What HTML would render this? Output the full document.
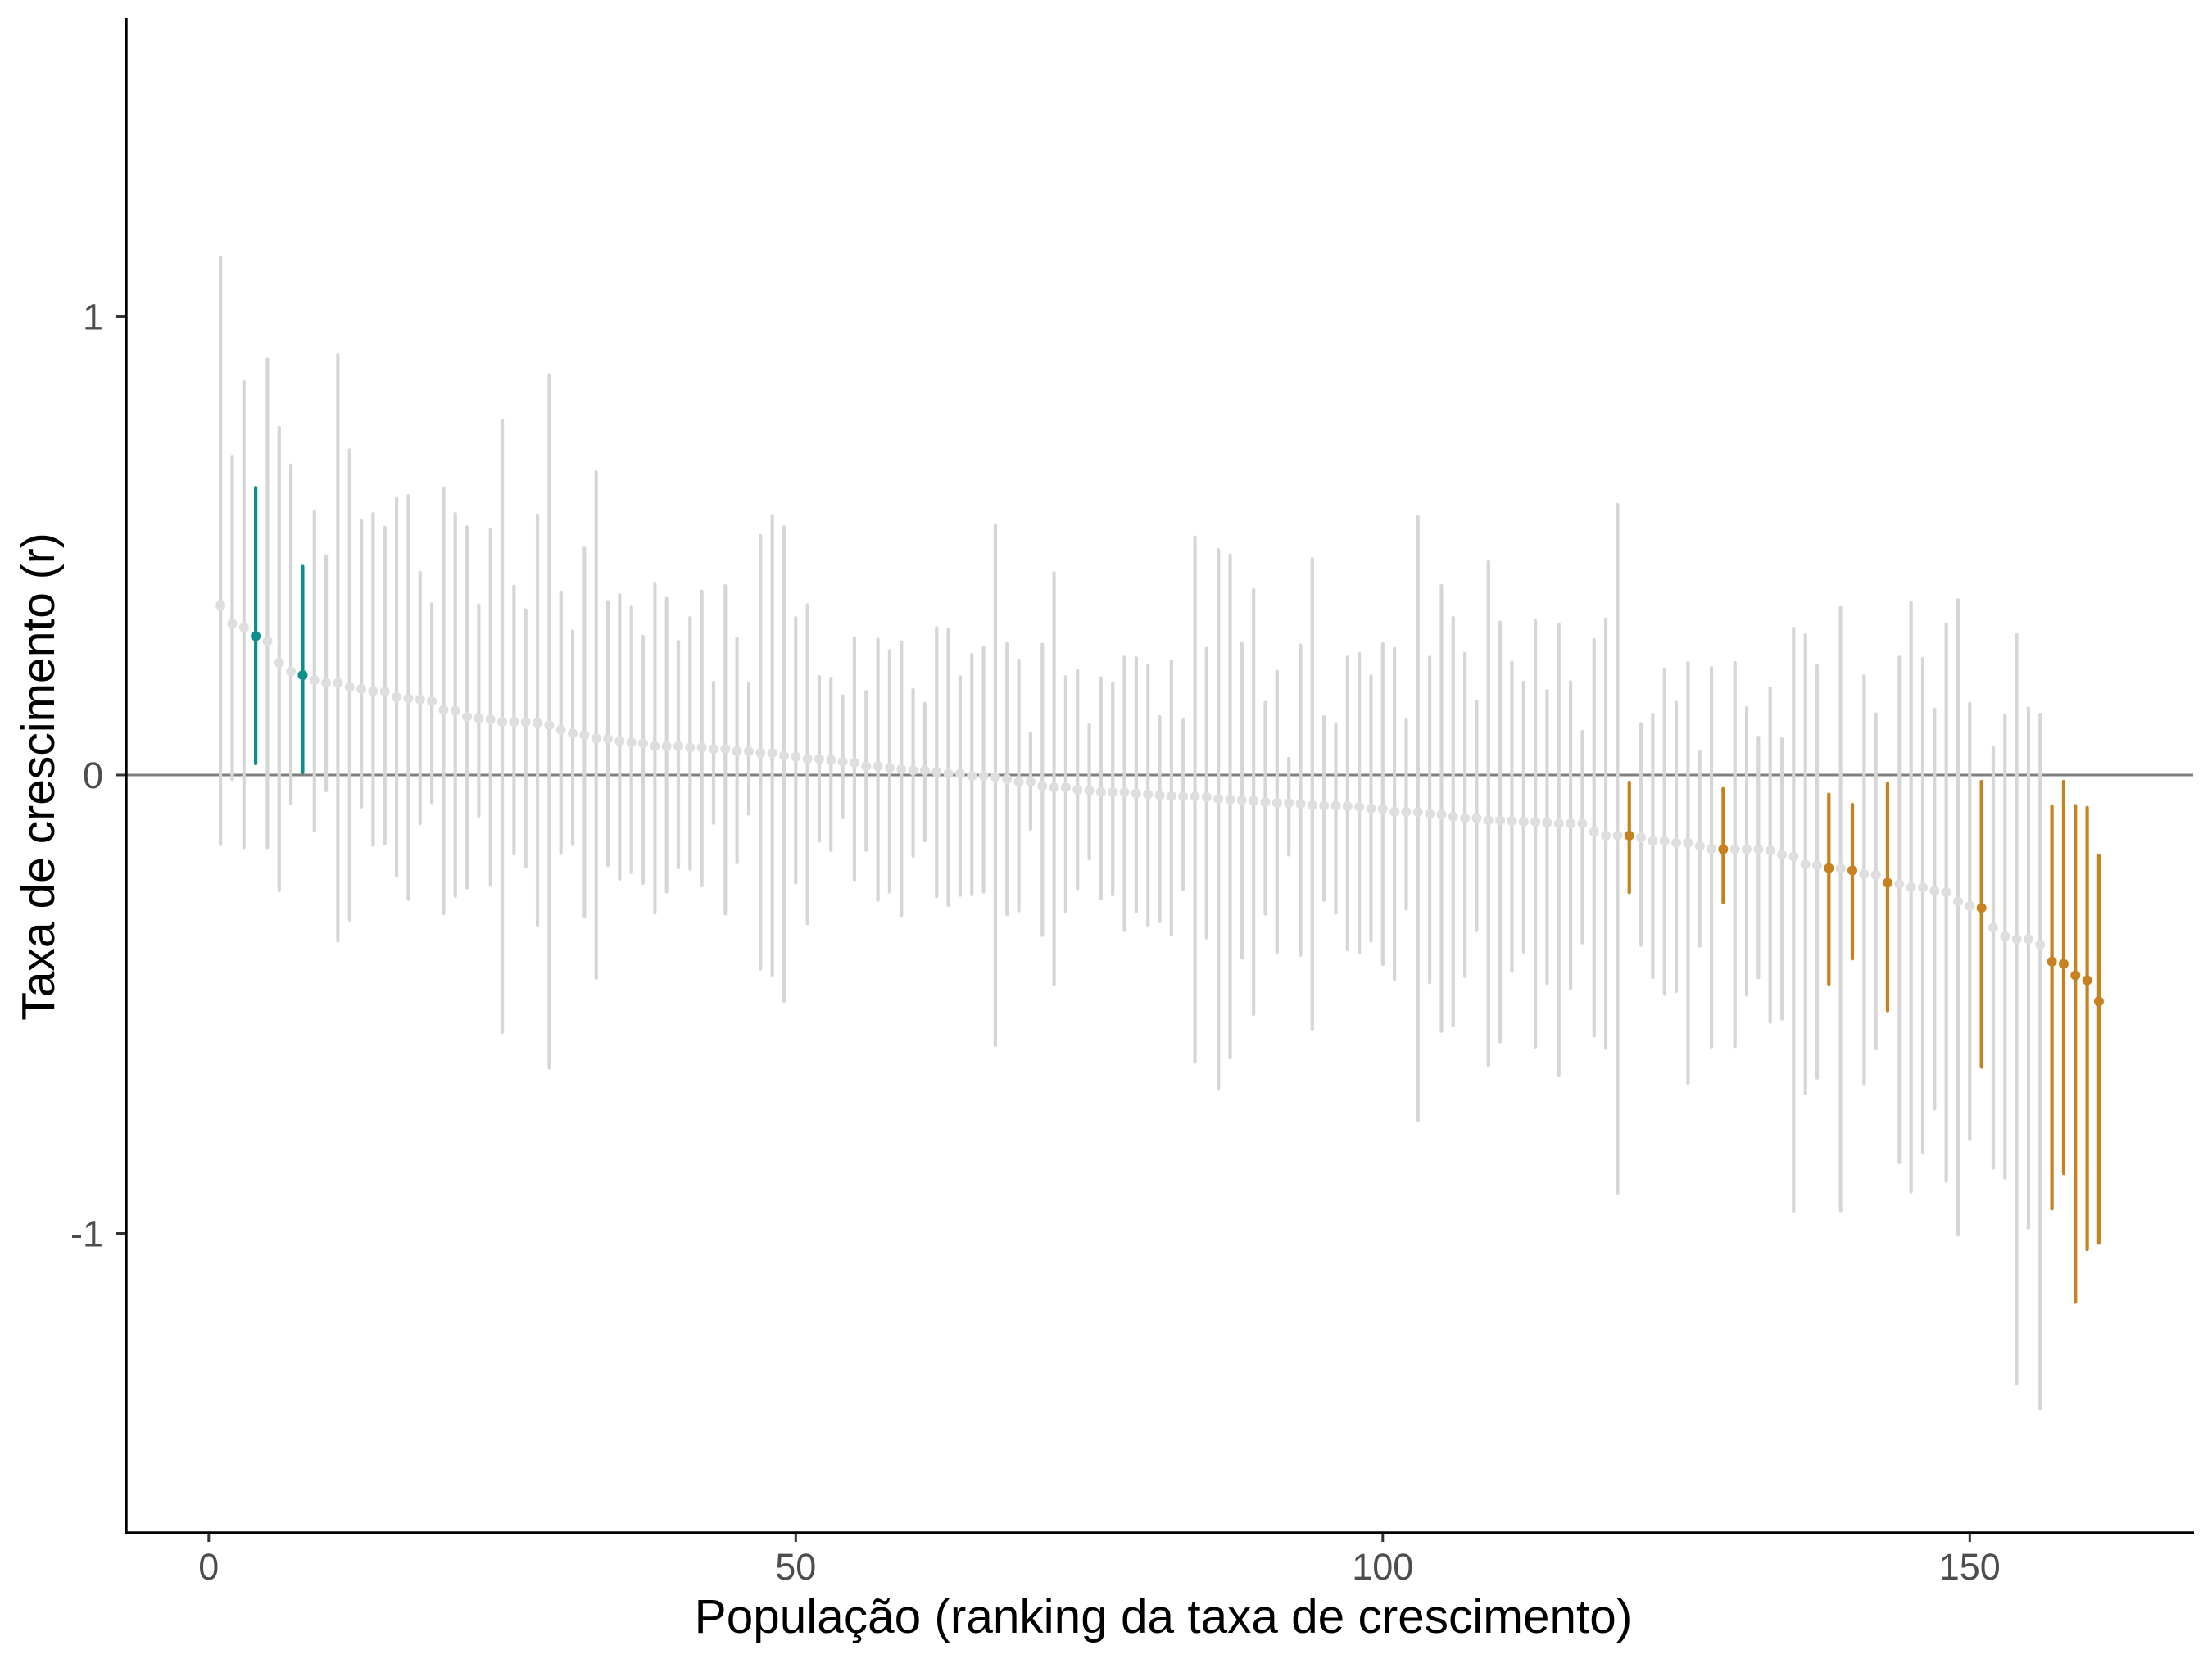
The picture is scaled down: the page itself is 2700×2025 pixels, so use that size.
<!DOCTYPE html>
<html><head><meta charset="utf-8"><style>
html,body{margin:0;padding:0;background:#fff;}
svg{display:block;font-family:"Liberation Sans",Arial,sans-serif;}
</style></head><body>
<svg id="chart" width="2700" height="2025" viewBox="0 0 2700 2025" xmlns="http://www.w3.org/2000/svg">
<rect width="2700" height="2025" fill="#fff"/>
<g id="marks"></g>
<g id="axes"></g>
<text x="1420" y="1993" font-size="58.5" text-anchor="middle" fill="#000">População (ranking da taxa de crescimento)</text>
<text transform="translate(66,948) rotate(-90)" font-size="57" text-anchor="middle" fill="#000">Taxa de crescimento (r)</text>
</svg>
<script>
const estimates = [0.37,0.33,0.322,0.303,0.292,0.245,0.226,0.218,0.207,0.201,0.201,0.192,0.188,0.183,0.182,0.17,0.167,0.165,0.161,0.142,0.14,0.127,0.124,0.121,0.116,0.116,0.115,0.114,0.109,0.099,0.091,0.087,0.08,0.079,0.074,0.071,0.069,0.063,0.063,0.063,0.06,0.06,0.057,0.057,0.052,0.052,0.048,0.048,0.042,0.04,0.035,0.035,0.033,0.029,0.027,0.019,0.019,0.016,0.013,0.01,0.01,0.007,0.003,0.003,-0.002,-0.002,-0.004,-0.009,-0.015,-0.015,-0.024,-0.027,-0.027,-0.032,-0.034,-0.037,-0.037,-0.037,-0.04,-0.042,-0.044,-0.046,-0.047,-0.047,-0.048,-0.052,-0.053,-0.055,-0.056,-0.059,-0.061,-0.061,-0.063,-0.066,-0.067,-0.067,-0.068,-0.069,-0.073,-0.074,-0.08,-0.08,-0.081,-0.085,-0.086,-0.091,-0.094,-0.094,-0.099,-0.099,-0.1,-0.102,-0.102,-0.104,-0.106,-0.106,-0.106,-0.124,-0.132,-0.132,-0.132,-0.136,-0.144,-0.144,-0.148,-0.148,-0.155,-0.161,-0.162,-0.162,-0.162,-0.162,-0.165,-0.174,-0.178,-0.195,-0.197,-0.203,-0.204,-0.208,-0.216,-0.218,-0.235,-0.238,-0.245,-0.245,-0.253,-0.256,-0.276,-0.286,-0.29,-0.333,-0.352,-0.358,-0.358,-0.37,-0.407,-0.412,-0.437,-0.448,-0.494];
const upper = [1.129,0.695,0.858,0.627,0.907,0.758,0.676,0.455,0.575,0.478,0.917,0.709,0.555,0.57,0.54,0.603,0.609,0.442,0.373,0.626,0.57,0.541,0.37,0.536,0.773,0.412,0.36,0.565,0.873,0.399,0.314,0.495,0.661,0.378,0.393,0.366,0.302,0.416,0.385,0.291,0.343,0.401,0.202,0.413,0.298,0.199,0.522,0.564,0.541,0.343,0.371,0.214,0.211,0.172,0.299,0.182,0.296,0.271,0.29,0.186,0.156,0.321,0.318,0.214,0.263,0.278,0.544,0.286,0.25,0.091,0.285,0.441,0.214,0.228,0.109,0.212,0.201,0.257,0.255,0.239,0.127,0.249,0.12,0.519,0.276,0.491,0.48,0.287,0.404,0.158,0.226,0.036,0.283,0.471,0.127,0.11,0.257,0.265,0.216,0.286,0.276,0.12,0.563,0.257,0.413,0.343,0.265,0.16,0.465,0.333,0.246,0.202,0.336,0.184,0.329,0.203,0.095,0.295,0.34,0.59,-0.016,0.112,0.132,0.231,0.158,0.245,0.05,0.234,-0.03,0.245,0.147,0.082,0.19,0.079,0.32,0.306,0.238,-0.042,0.365,-0.064,0.216,0.133,-0.018,0.257,0.377,0.254,0.143,0.329,0.382,0.156,-0.014,0.06,0.131,0.306,0.146,0.132,-0.068,-0.014,-0.067,-0.071,-0.176];
const lower = [-0.152,-0.009,-0.158,0.025,-0.158,-0.252,-0.062,0.006,-0.121,-0.034,-0.362,-0.316,-0.069,-0.153,-0.15,-0.22,-0.271,-0.106,-0.06,-0.302,-0.264,-0.246,-0.089,-0.24,-0.561,-0.172,-0.2,-0.328,-0.639,-0.171,-0.152,-0.308,-0.443,-0.197,-0.227,-0.212,-0.236,-0.301,-0.255,-0.202,-0.205,-0.241,-0.105,-0.303,-0.191,-0.085,-0.423,-0.437,-0.493,-0.235,-0.324,-0.144,-0.164,-0.093,-0.228,-0.164,-0.273,-0.255,-0.306,-0.177,-0.143,-0.265,-0.284,-0.262,-0.261,-0.255,-0.59,-0.304,-0.296,-0.118,-0.35,-0.457,-0.298,-0.248,-0.183,-0.27,-0.261,-0.339,-0.298,-0.328,-0.32,-0.348,-0.25,-0.626,-0.355,-0.685,-0.617,-0.399,-0.522,-0.303,-0.386,-0.174,-0.393,-0.554,-0.273,-0.301,-0.381,-0.388,-0.362,-0.413,-0.446,-0.292,-0.753,-0.453,-0.559,-0.547,-0.439,-0.339,-0.633,-0.582,-0.428,-0.386,-0.593,-0.454,-0.654,-0.467,-0.366,-0.569,-0.596,-0.913,-0.256,-0.371,-0.442,-0.478,-0.472,-0.672,-0.373,-0.593,-0.278,-0.592,-0.48,-0.442,-0.539,-0.532,-0.951,-0.695,-0.661,-0.456,-0.95,-0.401,-0.673,-0.597,-0.514,-0.845,-0.909,-0.823,-0.728,-0.886,-1.003,-0.795,-0.637,-0.857,-0.879,-1.327,-0.988,-1.382,-0.946,-0.869,-1.15,-1.035,-1.021];
const tealRanks = [4, 8];
const orangeRanks = [121, 129, 138, 140, 143, 151, 157, 158, 159, 160, 161];
const xTicks = [0, 50, 100, 150];
const yTicks = [1, 0, -1];
const yTickLabels = ["1", "0", "-1"];

const NS = "http://www.w3.org/2000/svg";
function xScale(v){ return 254.8 + v * 14.33; }
function yScale(v){ return 946 - v * 559.5; }
function mk(tag, attrs, parent){
  const el = document.createElementNS(NS, tag);
  for (const k in attrs) el.setAttribute(k, attrs[k]);
  parent.appendChild(el);
  return el;
}
const marks = document.getElementById('marks');
const axes = document.getElementById('axes');

const zl = mk('line', {x1:154, x2:2677, y1:yScale(0), y2:yScale(0), stroke:'#7f7f7f', 'stroke-width':3}, marks);



function colorFor(rank){
  if (tealRanks.includes(rank)) return ['#0b8f8b', '#0b8f8b'];
  if (orangeRanks.includes(rank)) return ['#c7821f', '#c7821f'];
  return ['#d6d6d6', '#dedede'];
}
const order = [];
for (let i = 0; i < estimates.length; i++) order.push(i);
order.sort((a,b)=> (colorFor(a+1)[0] !== '#d6d6d6') - (colorFor(b+1)[0] !== '#d6d6d6'));
for (const i of order){
  const rank = i + 1;
  const [lc, pc] = colorFor(rank);
  const x = xScale(rank);
  const bar = mk('line', {x1:x, x2:x, y1:yScale(upper[i]), y2:yScale(lower[i]), stroke:lc, 'stroke-width':4.2, 'stroke-linecap':'round'}, marks);
  
  
  const pt = mk('circle', {cx:x, cy:yScale(estimates[i]), r:6, fill:pc}, marks);
  
  
}

const yAxis = mk('line', {x1:154, x2:154, y1:22, y2:1873, stroke:'#000', 'stroke-width':3.4}, axes);


const xAxis = mk('line', {x1:152, x2:2678, y1:1871, y2:1871, stroke:'#000', 'stroke-width':3.4}, axes);



xTicks.forEach((t) => {
  const x = xScale(t);
  const tk = mk('line', {x1:x, x2:x, y1:1873, y2:1882, stroke:'#333', 'stroke-width':3}, axes);
  
  
  const lb = mk('text', {x:x, y:1928, 'font-size':45, 'text-anchor':'middle', fill:'#4d4d4d'}, axes);
  lb.textContent = String(t);
  
  
});
yTicks.forEach((t, k) => {
  const y = yScale(t);
  const tk = mk('line', {x1:142, x2:153, y1:y, y2:y, stroke:'#333', 'stroke-width':3}, axes);
  
  
  const lb = mk('text', {x:126, y:y + 16, 'font-size':45, 'text-anchor':'end', fill:'#4d4d4d'}, axes);
  lb.textContent = yTickLabels[k];
  
  
});
</script>
</body></html>
